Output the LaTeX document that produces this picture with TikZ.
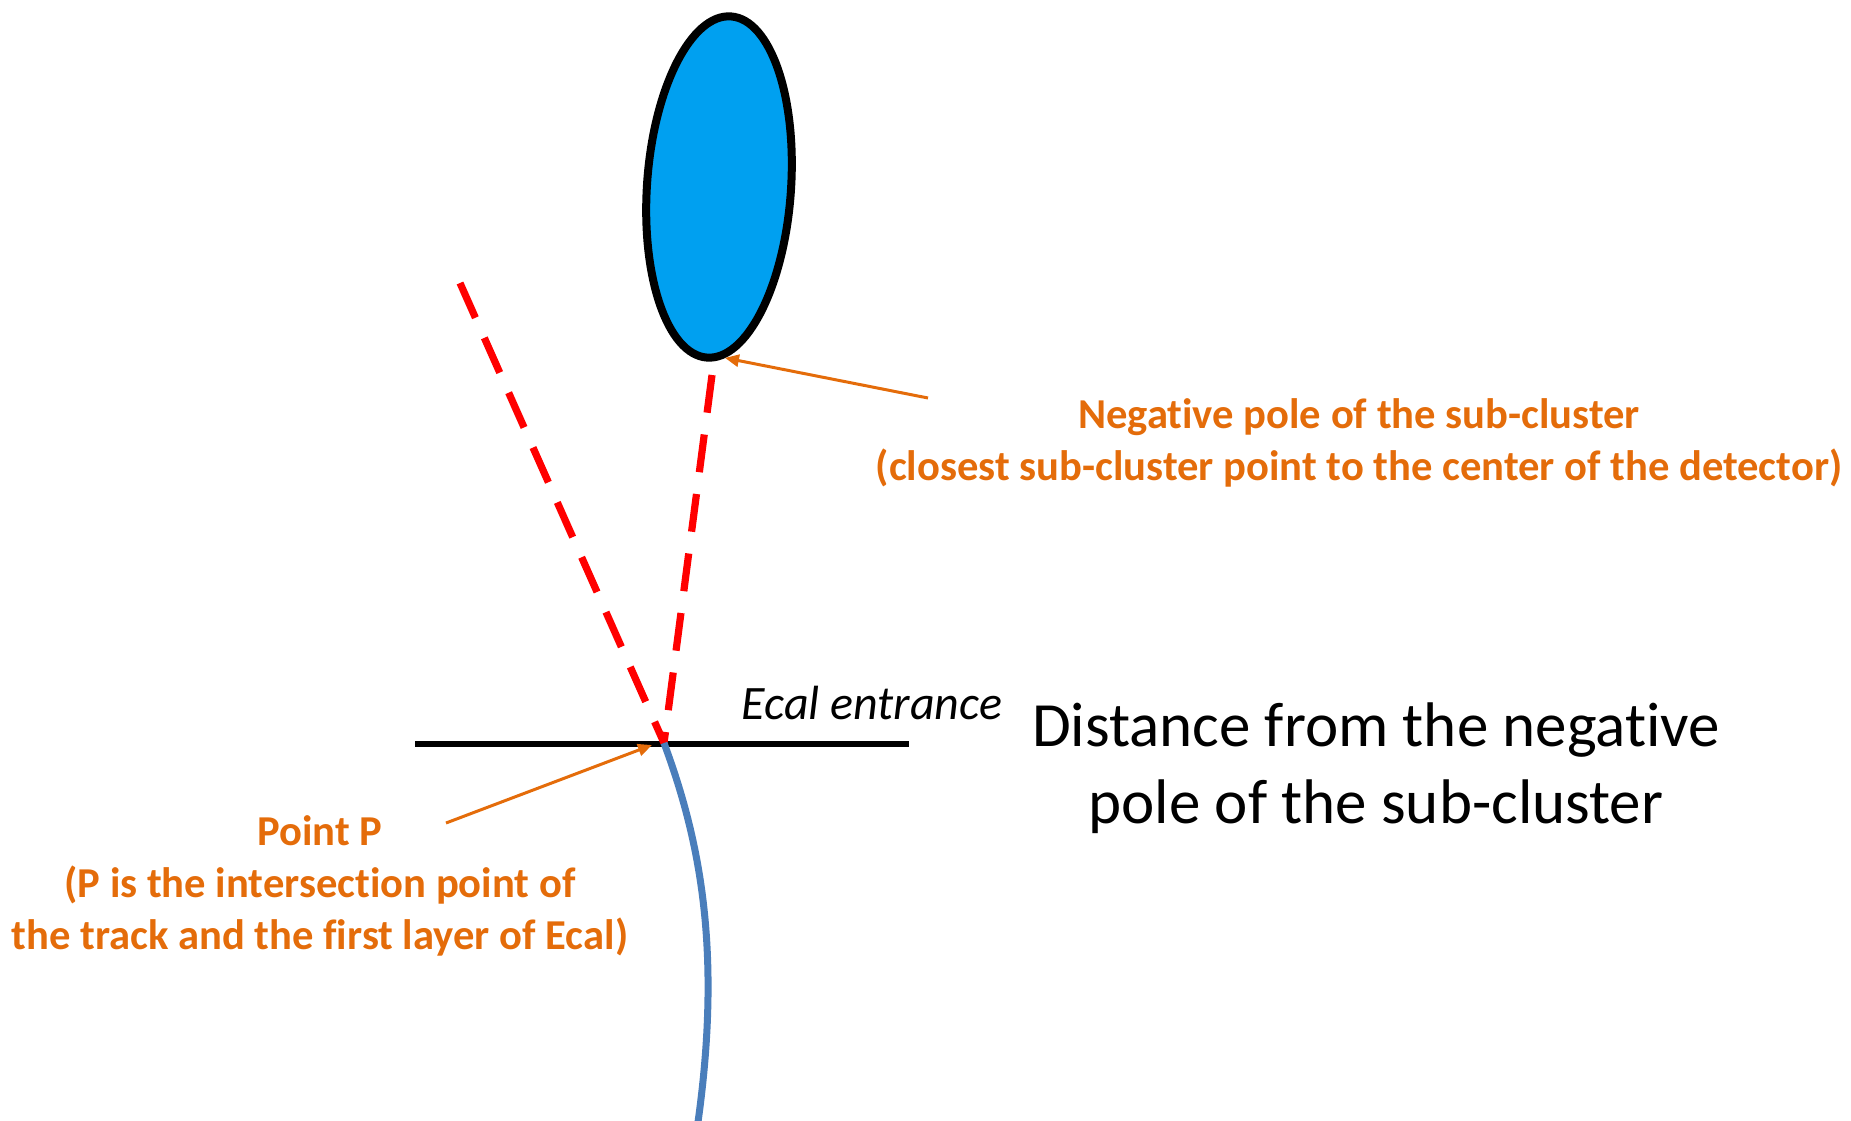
\documentclass[tikz,border=0pt]{standalone}
\usepackage{fontspec}
\setmainfont{Carlito}[Ligatures=NoCommon]
\usetikzlibrary{shapes.geometric,arrows.meta}
\definecolor{orng}{HTML}{E46C0A}
\definecolor{clublue}{HTML}{00A0F0}
\definecolor{trkblue}{HTML}{4A7EBB}
\definecolor{dred}{HTML}{FF0000}
\tikzset{
  reddash/.style={draw=dred, line width=3.6pt, dash pattern=on 19pt off 11pt},
  pointer/.style={draw=orng, line width=1.5pt, -{Triangle[length=7pt,width=6pt]}},
  orngtxt/.style={text=orng, font=\fontsize{21.3}{26}\selectfont\bfseries, align=center, inner sep=0pt},
}
\begin{document}
\begin{tikzpicture}[x=0.5pt,y=-0.5pt]
\useasboundingbox (0,0) rectangle (1851,1120);
% sub-cluster
\node[ellipse, draw=black, fill=clublue, line width=4pt, minimum width=72pt, minimum height=171pt, inner sep=0pt, rotate=-4] (clu) at (719,187) {};
% Ecal entrance line
\coordinate (ecalL) at (415,744);
\coordinate (ecalR) at (909,744);
\draw[line width=3.3pt] (ecalL) -- (ecalR);
\coordinate (P) at (664,743);
% dashed lines
\coordinate (d1) at (460,283);
\coordinate (d2) at (712,375);
\draw[reddash] (d1) -- (P);
\draw[reddash] (d2) -- (P);
% track
\coordinate (trkend) at (698,1122);
\draw[trkblue, line width=3.5pt] (P) .. controls (700,840) and (722,950) .. (trkend);
% labels
\node[font=\fontsize{24}{29}\selectfont\itshape, inner sep=0pt] (ecaltxt) at (872,703) {Ecal entrance};
\node[font=\fontsize{31.5}{38.5}\selectfont, align=center, inner sep=0pt] (dist) at (1376,768) {Distance from the negative\\pole of the sub-cluster};
\node[orngtxt] (negtxt) at (1359,443) {Negative pole of the sub-cluster\\(closest sub-cluster point to the center of the detector)};
\node[orngtxt] (ptxt) at (320,886) {Point P\\(P is the intersection point of\\the track and the first layer of Ecal)};
% pointers
\coordinate (a1) at (928,398);
\coordinate (a2) at (446,823);
\coordinate (p2) at (652,745);
\draw[pointer] (a1) -- (clu.-84);
\draw[pointer] (a2) -- (p2);
\end{tikzpicture}
\end{document}
